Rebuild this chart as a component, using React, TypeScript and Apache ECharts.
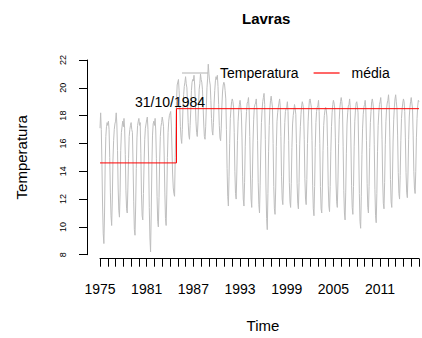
import { useEffect, useRef } from "react";
import * as echarts from "echarts";

// ---- data ----
const chartTitle = "Lavras";
const startYear = 1975; // first monthly value is January 1975

const temps1975to1984 = [
  17.1, 18.2, 17.0, 14.5, 11.5, 9.5, 8.8, 11.0, 14.5, 16.5, 17.2, 17.5,
  17.3, 17.6, 17.0, 15.0, 12.5, 10.8, 10.1, 12.0, 14.8, 16.2, 17.0, 17.4,
  17.6, 18.2, 17.4, 15.5, 12.8, 11.2, 10.7, 12.5, 15.5, 16.8, 17.2, 17.6,
  17.2, 17.8, 17.1, 15.2, 12.6, 11.3, 11.0, 12.8, 14.9, 16.5, 17.0, 17.3,
  17.5, 17.0, 16.8, 14.5, 11.8, 9.8, 9.4, 11.5, 14.2, 16.4, 17.3, 17.6,
  17.8, 17.3, 17.5, 15.3, 12.3, 10.8, 10.5, 12.4, 14.6, 16.3, 17.1, 17.4,
  17.7, 17.9, 17.0, 14.8, 11.4, 9.2, 8.2, 11.0, 14.3, 16.6, 17.4, 17.6,
  17.3, 17.8, 16.9, 14.9, 12.2, 10.4, 10.0, 12.1, 14.7, 16.5, 17.2, 17.5,
  17.9, 17.6, 17.2, 15.1, 12.5, 10.6, 10.1, 12.3, 15.0, 16.8, 17.6, 18.0,
  18.0, 18.3, 17.4, 15.6, 13.8, 12.8, 12.4, 12.2, 15.0, 17.2, 19.0, 20.2,
];

const temps1985to1994 = [
  20.2, 20.6, 19.8, 18.8, 17.2, 16.4, 16.0, 17.0, 18.6, 19.5, 20.1, 20.4,
  20.8, 20.3, 20.0, 18.9, 17.5, 16.6, 16.3, 17.3, 18.4, 19.8, 20.4, 20.6,
  20.5, 20.9, 20.2, 19.0, 17.6, 16.8, 16.5, 17.4, 18.8, 19.9, 20.3, 21.0,
  20.6, 20.4, 19.9, 18.7, 17.4, 16.5, 16.3, 17.2, 18.6, 20.0, 20.7, 21.7,
  21.0, 20.5, 20.2, 19.1, 17.8, 16.9, 16.6, 17.5, 18.9, 19.8, 20.5, 20.8,
  20.6, 20.9, 20.1, 18.8, 17.3, 16.4, 16.2, 17.1, 18.7, 19.7, 20.2, 20.4,
  20.3, 19.8, 19.2, 17.0, 14.2, 12.2, 11.5, 13.6, 16.0, 17.8, 18.5, 19.0,
  19.2, 19.0, 18.6, 16.8, 14.0, 12.4, 12.0, 13.8, 16.2, 17.6, 18.4, 18.8,
  19.1, 18.7, 18.2, 16.4, 13.6, 12.0, 11.5, 13.2, 15.8, 17.4, 18.3, 18.9,
  19.0, 19.3, 18.5, 16.5, 13.8, 12.0, 11.4, 13.5, 16.1, 17.7, 18.6, 18.8,
];

const temps1995to2004 = [
  18.9, 19.2, 18.4, 16.2, 13.2, 11.6, 11.0, 13.0, 15.6, 17.5, 18.4, 19.0,
  19.3, 19.6, 18.8, 16.3, 12.8, 10.6, 9.8, 12.4, 15.4, 17.3, 18.5, 19.1,
  19.4, 19.0, 18.6, 16.0, 12.9, 11.3, 10.9, 12.8, 15.8, 17.6, 18.2, 18.6,
  18.9, 19.2, 18.7, 16.5, 13.6, 12.0, 11.6, 13.3, 15.9, 17.5, 18.3, 18.5,
  18.6, 19.0, 18.3, 16.2, 13.2, 11.8, 11.4, 13.1, 15.7, 17.4, 18.0, 18.4,
  18.8, 18.5, 18.1, 16.0, 13.1, 11.7, 11.3, 13.2, 15.9, 17.2, 18.1, 18.7,
  19.0, 18.8, 18.4, 16.3, 13.5, 12.0, 11.6, 13.4, 16.0, 17.6, 18.5, 19.1,
  19.2, 18.9, 18.6, 16.2, 13.0, 11.3, 10.8, 12.9, 15.7, 17.5, 18.3, 18.6,
  18.7, 19.1, 18.3, 16.0, 12.9, 11.3, 11.0, 12.8, 15.5, 17.3, 18.0, 18.4,
  18.6, 18.4, 17.9, 15.8, 13.0, 11.5, 11.1, 12.9, 15.4, 17.2, 18.2, 18.8,
];

const temps2005to2016 = [
  19.1, 18.9, 18.5, 16.4, 13.3, 11.8, 11.4, 13.3, 16.0, 17.7, 18.6, 19.0,
  19.3, 19.0, 18.4, 15.8, 12.6, 11.0, 10.5, 12.5, 15.3, 17.4, 18.2, 18.7,
  18.8, 19.2, 18.6, 16.1, 13.0, 11.4, 10.9, 12.9, 15.8, 17.6, 18.4, 18.9,
  19.0, 18.7, 18.2, 15.6, 12.4, 10.4, 9.9, 12.2, 15.2, 17.1, 18.1, 18.6,
  18.8, 19.1, 18.5, 16.2, 13.1, 11.4, 11.0, 12.9, 15.7, 17.5, 18.3, 19.0,
  19.2, 18.9, 18.4, 15.9, 12.7, 10.8, 10.3, 12.4, 15.4, 17.3, 18.2, 18.8,
  19.0, 19.3, 18.6, 16.3, 13.3, 11.7, 11.3, 13.2, 15.9, 17.6, 18.5, 18.9,
  19.1, 19.5, 18.8, 16.4, 13.4, 11.8, 11.4, 13.3, 16.1, 17.7, 18.6, 19.2,
  19.5, 19.0, 18.5, 16.6, 13.9, 12.4, 12.0, 13.7, 16.2, 17.8, 18.5, 18.9,
  19.2, 19.0, 18.3, 16.4, 13.9, 12.5, 12.1, 13.8, 16.3, 17.9, 18.6, 19.0,
  19.3, 18.9, 18.5, 16.6, 14.0, 12.8, 12.4, 14.0, 16.4, 17.8, 18.7, 19.1,
  19.0,
];

const meanBefore = 14.6;
const meanAfter = 18.5;
const breakDate = 1984.83; // 31/10/1984
const breakLabel = "31/10/1984";
const xStart = 1975;
const xEnd = 2016;
const xLabelStep = 6;
const yMin = 8;
const yMax = 22;
const yStep = 2;

const seriesNames = ["Temperatura", "média"];

export default function App() {
  const ref = useRef<HTMLDivElement>(null);

  useEffect(() => {
    document.body.style.margin = "0";
    const chart = echarts.init(ref.current!, null, { renderer: "svg" });

    const monthly = [
      ...temps1975to1984,
      ...temps1985to1994,
      ...temps1995to2004,
      ...temps2005to2016,
    ];
    const tempData = monthly.map((v, i) => [startYear + i / 12, v]);
    const meanData = [
      [xStart, meanBefore],
      [breakDate, meanBefore],
      [breakDate, meanAfter],
      [xEnd, meanAfter],
    ];

    chart.setOption({
      animation: false,
      backgroundColor: "#ffffff",
      textStyle: { fontFamily: "Liberation Sans, Arial, sans-serif", color: "#000" },
      title: {
        text: chartTitle,
        left: 237,
        top: 6,
        textStyle: { fontSize: 15, fontWeight: "bold", color: "#000" },
      },
      legend: {
        data: seriesNames,
        left: 182,
        top: 66,
        padding: 0,
        icon: "rect",
        itemWidth: 26,
        itemHeight: 1.2,
        itemGap: 15,
        textStyle: { fontSize: 14, color: "#000", padding: [0, 0, 0, 7] },
      },
      grid: { left: 100, right: 1, top: 60, bottom: 83.3 },
      xAxis: {
        type: "value",
        min: xStart,
        max: xEnd,
        interval: 1,
        offset: 4,
        name: "Time",
        nameLocation: "middle",
        nameGap: 59,
        nameTextStyle: { fontSize: 15, color: "#000", padding: [0, 0, 0, 7] },
        axisLine: { show: true, lineStyle: { color: "#000", width: 1 } },
        axisTick: { show: true, length: 8, lineStyle: { color: "#000" } },
        axisLabel: {
          fontSize: 14,
          margin: 23,
          color: "#000",
          formatter: (v: number) => {
            const y = Math.round(v);
            return (y - xStart) % xLabelStep === 0 ? String(y) : "";
          },
        },
        splitLine: { show: false },
      },
      yAxis: {
        type: "value",
        min: yMin,
        max: yMax,
        interval: yStep,
        offset: 13,
        name: "Temperatura",
        nameLocation: "middle",
        nameGap: 58,
        nameTextStyle: { fontSize: 15, color: "#000" },
        axisLine: { show: true, lineStyle: { color: "#000", width: 1 } },
        axisTick: { show: true, length: 8, lineStyle: { color: "#000" } },
        axisLabel: { rotate: 90, fontSize: 9, margin: 20, color: "#000" },
        splitLine: { show: false },
      },
      series: [
        {
          name: seriesNames[0],
          type: "line",
          data: tempData,
          symbol: "none",
          showSymbol: false,
          lineStyle: { color: "#BEBEBE", width: 1 },
          itemStyle: { color: "#BEBEBE" },
        },
        {
          name: seriesNames[1],
          type: "line",
          data: meanData,
          symbol: "none",
          showSymbol: false,
          lineStyle: { color: "#FF0000", width: 1 },
          itemStyle: { color: "#FF0000" },
          markPoint: {
            symbol: "circle",
            symbolSize: 0,
            data: [{ coord: [1984.0, 19.0], value: breakLabel }],
            label: {
              show: true,
              position: "inside",
              formatter: breakLabel,
              fontSize: 14,
              color: "#000",
            },
          },
        },
      ],
    });

    return () => chart.dispose();
  }, []);

  return <div ref={ref} style={{ width: 422, height: 338 }} />;
}
